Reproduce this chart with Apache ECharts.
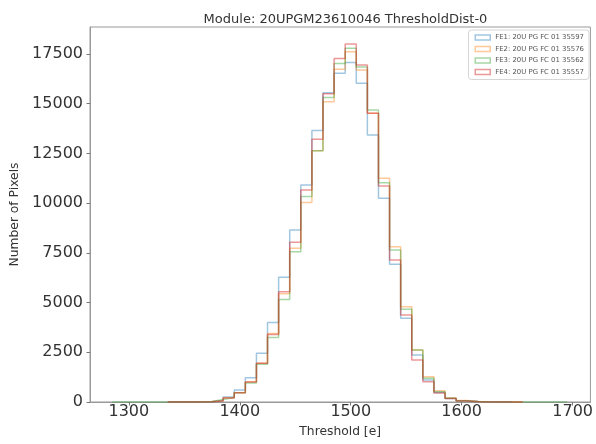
<!DOCTYPE html>
<html>
<head>
<meta charset="utf-8">
<script src="https://cdn.jsdelivr.net/npm/echarts@6/dist/echarts.min.js"></script>
<style>
  html, body { margin: 0; padding: 0; background: #fff; }
  #chart { width: 596px; height: 444px; }
</style>
</head>
<body>
<div id="chart"></div>
<script>
// Histogram bin left edges (bin width = spacing between edges)
const binLeft = [1285,1295,1305,1315,1325,1335,1345,1355,1365,1375,1385,1395,1405,1415,1425,1435,1445,1455,1465,1475,1485,1495,1505,1515,1525,1535,1545,1555,1565,1575,1585,1595,1605,1615,1625,1635,1645,1655,1665,1675,1685];

const seriesNames = [
  "FE1: 20U PG FC 01 35597",
  "FE2: 20U PG FC 01 35576",
  "FE3: 20U PG FC 01 35562",
  "FE4: 20U PG FC 01 35557"
];

const fe1 = [null,null,null,null,null,0,0,3,15,60,250,600,1220,2450,4000,6280,8650,10910,13650,15550,16530,17070,16030,13430,10250,6930,4210,2360,1110,480,180,60,20,5,1,0,null,null,null,null,null];
const fe2 = [null,null,null,null,null,0,1,4,20,55,220,470,1020,1950,3450,5450,7730,10030,12640,15100,16730,17620,16700,14520,11250,7810,4790,2610,1270,560,200,70,20,6,2,1,0,null,null,null,null];
const fe3 = [0,0,0,0,0,0,2,5,30,130,220,460,950,1900,3250,5150,7560,10330,12640,15320,17030,17790,16850,14690,11030,7640,4660,2610,1200,520,190,60,20,8,2,0,1,0,0,1,0];
const fe4 = [null,null,null,null,null,0,1,3,15,60,200,470,1000,1950,3400,5550,8030,10660,13210,15500,17280,18000,16950,14520,10860,7140,4380,2110,1020,450,170,50,15,5,2,1,0,null,null,null,null];

const xTicks = [1300, 1400, 1500, 1600, 1700];
const yTicks = [0, 2500, 5000, 7500, 10000, 12500, 15000, 17500];

const colors = ['rgba(31,119,180,0.42)', 'rgba(255,127,14,0.42)', 'rgba(44,160,44,0.42)', 'rgba(214,39,40,0.48)'];

function toSteps(vals) {
  const bw = binLeft[1] - binLeft[0];
  let first = -1, last = -1;
  vals.forEach((v, i) => { if (v !== null) { if (first < 0) first = i; last = i; } });
  const pts = [[binLeft[first], 0]];
  for (let i = first; i <= last; i++) pts.push([binLeft[i], vals[i]]);
  pts.push([binLeft[last] + bw, 0]);
  return pts;
}

const allVals = [fe1, fe2, fe3, fe4];
const FONT = 'DejaVu Sans';

const chart = echarts.init(document.getElementById('chart'), null, { renderer: 'canvas' });
chart.setOption({
  animation: false,
  backgroundColor: '#fff',
  title: {
    text: 'Module: 20UPGM23610046 ThresholdDist-0',
    left: 340.5,
    top: 8,
    textAlign: 'center',
    textStyle: { fontFamily: FONT, fontSize: 13, fontWeight: 'normal', color: '#333' }
  },
  legend: {
    orient: 'vertical',
    right: 7,
    top: 30,
    backgroundColor: '#fff',
    borderColor: '#d6d6d6',
    borderWidth: 1,
    borderRadius: 3,
    padding: [4, 5, 4, 6],
    itemWidth: 15,
    itemHeight: 5,
    itemGap: 4.5,
    textStyle: { fontFamily: FONT, fontSize: 6.9, color: '#555' },
    data: seriesNames.map((n, i) => ({
      name: n,
      icon: 'rect',
      itemStyle: { color: 'rgba(255,255,255,0)', borderColor: colors[i], borderWidth: 1.5 }
    }))
  },
  grid: {
    left: 90, top: 27, width: 501, height: 375,
    show: true, borderColor: '#999', borderWidth: 1, backgroundColor: 'transparent'
  },
  xAxis: {
    type: 'value',
    min: 1265, max: 1716,
    name: 'Threshold [e]',
    nameLocation: 'middle',
    nameGap: 24,
    nameTextStyle: { fontFamily: FONT, fontSize: 12.3, color: '#333' },
    axisLine: { show: true, lineStyle: { color: '#999', width: 1 } },
    axisTick: { show: true, length: 3.5, customValues: xTicks, lineStyle: { color: '#777' } },
    axisLabel: { customValues: xTicks, formatter: v => String(v), fontFamily: FONT, fontSize: 16, color: '#333', margin: 2 },
    splitLine: { show: false }
  },
  yAxis: {
    type: 'value',
    min: 0, max: 18860,
    name: 'Number of Pixels',
    nameLocation: 'middle',
    nameGap: 56,
    nameTextStyle: { fontFamily: FONT, fontSize: 12.3, color: '#333' },
    axisLine: { show: true, lineStyle: { color: '#999', width: 1 } },
    axisTick: { show: true, length: 3.5, customValues: yTicks, lineStyle: { color: '#777' } },
    axisLabel: { customValues: yTicks, formatter: v => String(v), fontFamily: FONT, fontSize: 16, color: '#333', margin: 7 },
    splitLine: { show: false }
  },
  series: allVals.map((vals, i) => ({
    name: seriesNames[i],
    type: 'line',
    step: 'end',
    symbol: 'none',
    data: toSteps(vals),
    lineStyle: { color: colors[i], width: 1.5 },
    itemStyle: { color: colors[i] },
    z: 2 + i
  }))
});
</script>
</body>
</html>
